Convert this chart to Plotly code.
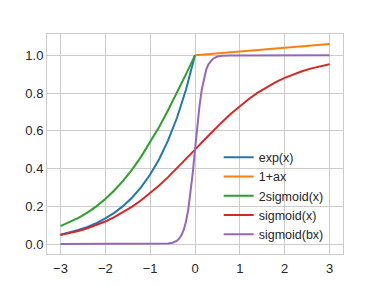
import plotly.graph_objects as go

# x grid for left-half curves (x <= 0)
x_neg = [-3.0, -2.8, -2.6, -2.4, -2.2, -2.0, -1.8, -1.6, -1.4, -1.2, -1.0,
         -0.8, -0.6, -0.4, -0.2, 0.0]
exp_vals = [0.0498, 0.0608, 0.0743, 0.0907, 0.1108, 0.1353, 0.1653, 0.2019,
            0.2466, 0.3012, 0.3679, 0.4493, 0.5488, 0.6703, 0.8187, 1.0]
two_sig_vals = [0.0949, 0.1146, 0.1382, 0.1664, 0.1996, 0.2384, 0.2838, 0.3360,
                0.3956, 0.4630, 0.5379, 0.6200, 0.7086, 0.8026, 0.9004, 1.0]

# right half line 1+ax
x_pos = [0.0, 1.0, 2.0, 3.0]
lin_vals = [1.00, 1.02, 1.04, 1.06]

# full range sigmoid(x)
x_full = [-3.0, -2.8, -2.6, -2.4, -2.2, -2.0, -1.8, -1.6, -1.4, -1.2, -1.0,
          -0.8, -0.6, -0.4, -0.2, 0.0, 0.2, 0.4, 0.6, 0.8, 1.0, 1.2, 1.4,
          1.6, 1.8, 2.0, 2.2, 2.4, 2.6, 2.8, 3.0]
sig_vals = [0.0474, 0.0573, 0.0691, 0.0832, 0.0998, 0.1192, 0.1419, 0.1680,
            0.1978, 0.2315, 0.2689, 0.3100, 0.3543, 0.4013, 0.4502, 0.5,
            0.5498, 0.5987, 0.6457, 0.6900, 0.7311, 0.7685, 0.8022, 0.8320,
            0.8581, 0.8808, 0.9002, 0.9168, 0.9309, 0.9427, 0.9526]

# sigmoid(bx), steep
x_steep = [-3.0, -1.0, -0.8, -0.6, -0.5, -0.4, -0.35, -0.3, -0.25, -0.2, -0.15,
           -0.1, -0.05, 0.0, 0.05, 0.1, 0.15, 0.2, 0.25, 0.3, 0.35, 0.4, 0.5,
           0.6, 0.8, 1.0, 3.0]
steep_vals = [0.0, 0.00005, 0.0003, 0.0025, 0.0067, 0.0180, 0.0293, 0.0474,
              0.0759, 0.1192, 0.1824, 0.2689, 0.3775, 0.5, 0.6225, 0.7311,
              0.8176, 0.8808, 0.9241, 0.9526, 0.9707, 0.9820, 0.9933, 0.9975,
              0.9997, 1.0, 1.0]

x_tick_vals = [-3, -2, -1, 0, 1, 2, 3]
x_tick_text = ["\u22123", "\u22122", "\u22121", "0", "1", "2", "3"]
y_tick_vals = [0.0, 0.2, 0.4, 0.6, 0.8, 1.0]
y_tick_text = ["0.0", "0.2", "0.4", "0.6", "0.8", "1.0"]

colors = ["#1f77b4", "#ff7f0e", "#2ca02c", "#d62728", "#9467bd"]
lw = 2

fig = go.Figure()
fig.add_trace(go.Scatter(x=x_neg, y=exp_vals, mode="lines", name="exp(x)",
                         line=dict(color=colors[0], width=lw)))
fig.add_trace(go.Scatter(x=x_pos, y=lin_vals, mode="lines", name="1+ax",
                         line=dict(color=colors[1], width=lw)))
fig.add_trace(go.Scatter(x=x_neg, y=two_sig_vals, mode="lines", name="2sigmoid(x)",
                         line=dict(color=colors[2], width=lw)))
fig.add_trace(go.Scatter(x=x_full, y=sig_vals, mode="lines", name="sigmoid(x)",
                         line=dict(color=colors[3], width=lw)))
fig.add_trace(go.Scatter(x=x_steep, y=steep_vals, mode="lines", name="sigmoid(bx)",
                         line=dict(color=colors[4], width=lw)))

font_fam = "Liberation Sans, Arial"
axis_common = dict(showgrid=True, gridcolor="#cccccc", gridwidth=1,
                   showline=True, linecolor="#cccccc", linewidth=1, mirror=True,
                   zeroline=False, ticks="", automargin=False,
                   tickfont=dict(family=font_fam, size=13, color="#262626"))

# page body has an 8px default margin, so offsets compensate for it
fig.update_layout(
    width=381, height=286,
    margin=dict(l=39, r=46, t=26, b=40),
    paper_bgcolor="white", plot_bgcolor="white",
    xaxis=dict(range=[-3.3, 3.3], tickvals=x_tick_vals, ticktext=x_tick_text,
               ticklabelstandoff=2, **axis_common),
    yaxis=dict(range=[-0.053, 1.113], tickvals=y_tick_vals, ticktext=y_tick_text,
               ticklabelstandoff=0, **axis_common),
    showlegend=True,
    legend=dict(x=0.58, y=0.02, xanchor="left", yanchor="bottom",
                bgcolor="rgba(0,0,0,0)", borderwidth=0, itemwidth=30,
                tracegroupgap=0,
                font=dict(family=font_fam, size=12.5, color="#262626")),
)

fig.write_html("out.html")
